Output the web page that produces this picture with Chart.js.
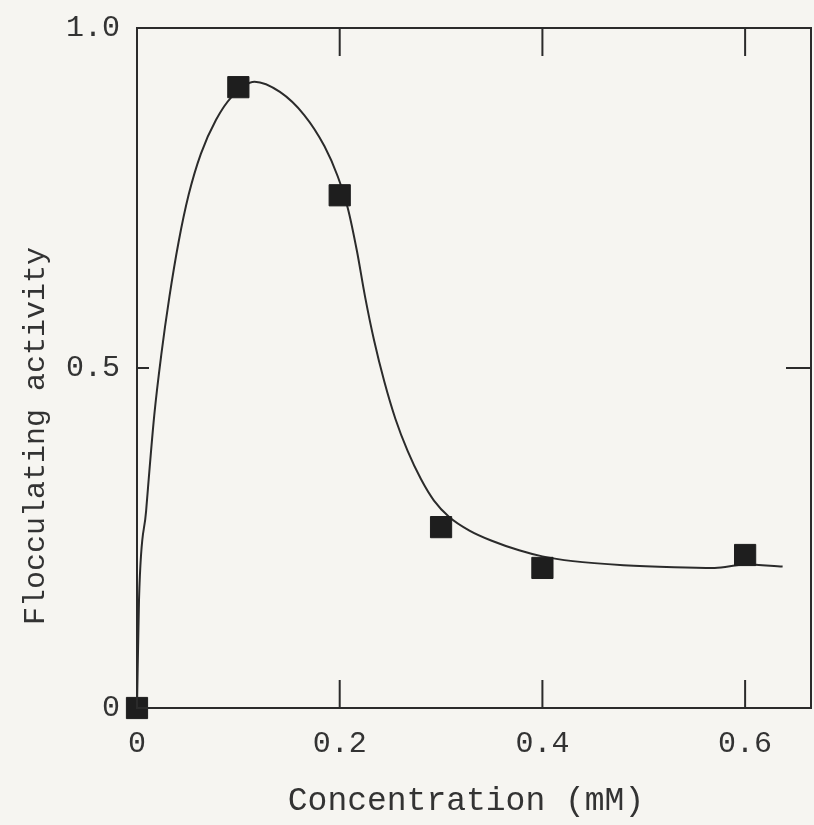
<!DOCTYPE html>
<html>
<head>
<meta charset="utf-8">
<script src="https://cdn.jsdelivr.net/npm/chart.js@4.4.1/dist/chart.umd.min.js"></script>
<style>
  html, body { margin: 0; padding: 0; background: #f6f5f1; overflow: hidden; }
  canvas { display: block; }
</style>
</head>
<body>
<canvas id="floc" width="814" height="825"></canvas>
<script>
// measured points
const concentration = [0, 0.1, 0.2, 0.3, 0.4, 0.6];
const activity = [0, 0.913, 0.754, 0.266, 0.206, 0.225];

// hand drawn fit line
const fitX = [0, 0.002, 0.009, 0.017, 0.024, 0.032, 0.041, 0.051, 0.063, 0.078, 0.093, 0.116, 0.141, 0.165, 0.185, 0.198, 0.208, 0.217, 0.225, 0.234, 0.244, 0.255, 0.267, 0.280, 0.293, 0.308, 0.328, 0.350, 0.377, 0.400, 0.430, 0.480, 0.530, 0.570, 0.600, 0.637];
const fitY = [0, 0.160, 0.290, 0.430, 0.520, 0.605, 0.685, 0.755, 0.815, 0.865, 0.898, 0.921, 0.906, 0.872, 0.826, 0.782, 0.735, 0.672, 0.605, 0.540, 0.480, 0.425, 0.378, 0.337, 0.305, 0.281, 0.261, 0.246, 0.232, 0.223, 0.216, 0.210, 0.207, 0.206, 0.211, 0.208];

const xTicks = [0, 0.2, 0.4, 0.6];
const xTickLabels = ['0', '0.2', '0.4', '0.6'];
const yTicks = [0, 0.5, 1.0];
const yTickLabels = ['0', '0.5', '1.0'];

const xTitle = 'Concentration (mM)';
const yTitle = 'Flocculating activity';

const ink = '#2b2b2b';
const face = 'Liberation Mono, DejaVu Sans Mono, monospace';

// frame, inward ticks and axis titles
const framePlugin = {
    id: 'frame',
    afterDatasetsDraw(chart) {
        const { ctx, chartArea: a, scales } = chart;
        ctx.save();
        ctx.strokeStyle = ink;
        ctx.lineWidth = 2;
        ctx.strokeRect(a.left, a.top, a.right - a.left, a.bottom - a.top);

        ctx.beginPath();
        xTicks.forEach(v => {
            if (v === 0) return;
            const px = scales.x.getPixelForValue(v);
            ctx.moveTo(px, a.bottom); ctx.lineTo(px, a.bottom - 28);
            ctx.moveTo(px, a.top); ctx.lineTo(px, a.top + 28);
        });
        const py = scales.y.getPixelForValue(0.5);
        ctx.moveTo(a.left, py); ctx.lineTo(a.left + 12, py);
        ctx.moveTo(a.right, py); ctx.lineTo(a.right - 25, py);
        ctx.stroke();

        ctx.fillStyle = '#333';
        ctx.textAlign = 'center';
        ctx.textBaseline = 'middle';
        ctx.font = '33px ' + face;
        ctx.fillText(xTitle, 466, a.bottom + 93);

        ctx.translate(36, 436);
        ctx.rotate(-Math.PI / 2);
        ctx.font = '30px ' + face;
        ctx.fillText(yTitle, 0, 0);
        ctx.restore();
    }
};

const noPad = s => { s.paddingTop = 0; s.paddingBottom = 0; s.paddingLeft = 0; s.paddingRight = 0; };

new Chart(document.getElementById('floc'), {
    type: 'scatter',
    data: {
        datasets: [
            {
                label: 'measured',
                data: concentration.map((c, i) => ({ x: c, y: activity[i] })),
                pointStyle: 'rect',
                pointRadius: 15,
                pointHoverRadius: 15,
                pointBackgroundColor: '#1e1e1e',
                pointBorderColor: '#1e1e1e',
                pointBorderWidth: 1,
                showLine: false,
                clip: false,
                order: 0
            },
            {
                label: 'fit',
                data: fitX.map((c, i) => ({ x: c, y: fitY[i] })),
                showLine: true,
                borderColor: ink,
                borderWidth: 2,
                pointRadius: 0,
                cubicInterpolationMode: 'monotone',
                clip: false,
                order: 1
            }
        ]
    },
    options: {
        responsive: false,
        animation: false,
        layout: { autoPadding: false, padding: { top: 28, right: 3, left: 0, bottom: 0 } },
        plugins: { legend: { display: false }, tooltip: { enabled: false } },
        scales: {
            x: {
                type: 'linear',
                min: 0,
                max: 0.665,
                afterBuildTicks: s => { s.ticks = xTicks.map(v => ({ value: v })); },
                afterFit: s => { s.height = 117; noPad(s); },
                grid: { display: false, drawTicks: false },
                border: { display: false },
                ticks: {
                    padding: 18,
                    color: '#333',
                    font: { family: face, size: 30 },
                    callback: (v, i) => xTickLabels[i]
                }
            },
            y: {
                type: 'linear',
                min: 0,
                max: 1.0,
                afterBuildTicks: s => { s.ticks = yTicks.map(v => ({ value: v })); },
                afterFit: s => { s.width = 137; noPad(s); },
                grid: { display: false, drawTicks: false },
                border: { display: false },
                ticks: {
                    padding: 17,
                    color: '#333',
                    font: { family: face, size: 30 },
                    callback: (v, i) => yTickLabels[i]
                }
            }
        }
    },
    plugins: [framePlugin]
});
</script>
</body>
</html>
